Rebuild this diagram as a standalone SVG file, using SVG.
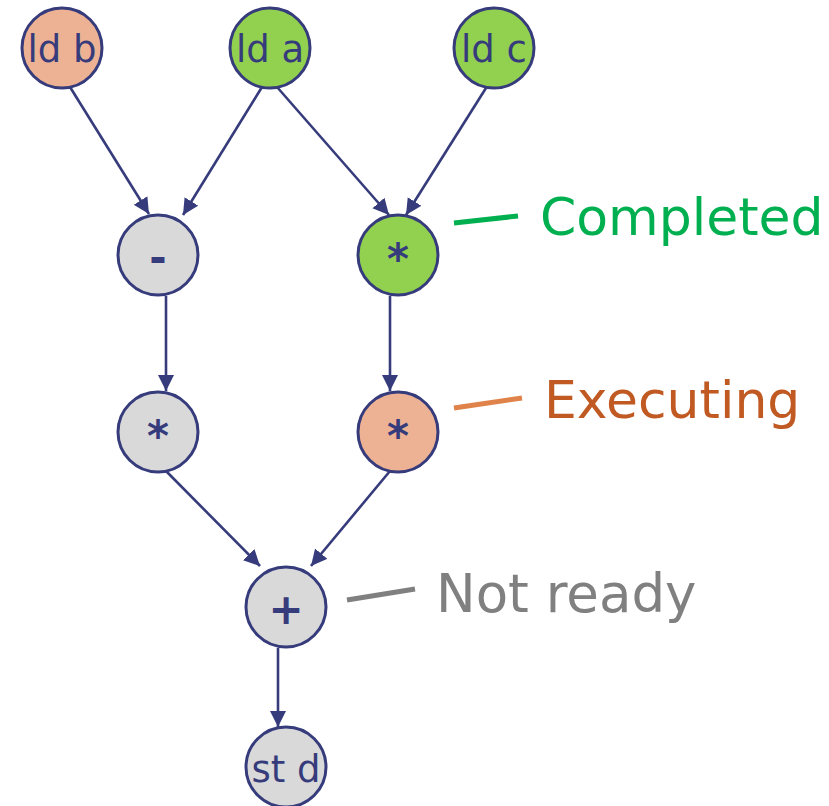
<svg xmlns="http://www.w3.org/2000/svg" width="829" height="806" viewBox="0 0 829 806">
<defs>
<style>
.n{stroke:#363B7B;stroke-width:3}
.g{fill:#D9D9D9}.gr{fill:#92D050}.o{fill:#EDB293}
.t{font-family:"DejaVu Sans",Verdana,sans-serif;fill:#363B7B;text-anchor:middle}
.tl{font-size:37px}
.op{font-size:42px;font-weight:bold}
.e{stroke:#363B7B;stroke-width:2.6;fill:none;marker-end:url(#ah)}
.lbl{font-family:"DejaVu Sans",Verdana,sans-serif;font-size:52px}
</style>
<marker id="ah" markerUnits="userSpaceOnUse" markerWidth="17" markerHeight="17" refX="16" refY="8" orient="auto">
<path d="M0,0 L16,8 L0,16 z" fill="#363B7B"/>
</marker>
</defs>
<rect width="829" height="806" fill="#FFFFFF"/>
<g id="connectors">
<line class="e" x1="70" y1="87" x2="149" y2="214"/>
<line class="e" x1="262" y1="87" x2="183" y2="215"/>
<line class="e" x1="277" y1="87" x2="389" y2="215"/>
<line class="e" x1="486" y1="88" x2="406" y2="215"/>
<line class="e" x1="166" y1="296" x2="166" y2="391"/>
<line class="e" x1="390" y1="296" x2="390" y2="391"/>
<line class="e" x1="166" y1="471" x2="260" y2="566"/>
<line class="e" x1="390" y1="471" x2="311" y2="566"/>
<line class="e" x1="278" y1="648" x2="278" y2="727"/>
</g>
<g id="ldb"><circle class="n o" cx="62" cy="48" r="40"/><text class="t tl" x="62" y="62">ld b</text></g>
<g id="lda"><circle class="n gr" cx="270" cy="48" r="40"/><text class="t tl" x="270" y="62">ld a</text></g>
<g id="ldc"><circle class="n gr" cx="494" cy="48" r="40"/><text class="t tl" x="494" y="62">ld c</text></g>
<g id="sub"><circle class="n g" cx="158" cy="255" r="40"/><text class="t op" x="158" y="272">-</text></g>
<g id="mul1"><circle class="n gr" cx="398" cy="255" r="40"/><text class="t op" x="398" y="274">*</text></g>
<g id="mul2"><circle class="n g" cx="158" cy="432" r="40"/><text class="t op" x="158" y="451">*</text></g>
<g id="mul3"><circle class="n o" cx="398" cy="432" r="40"/><text class="t op" x="398" y="451">*</text></g>
<g id="add"><circle class="n g" cx="286" cy="607" r="40"/><text class="t op" x="286" y="624">+</text></g>
<g id="std"><circle class="n g" cx="286" cy="767" r="40"/><text class="t tl" x="286" y="782">st d</text></g>
<g id="legend-completed">
<line x1="454" y1="223" x2="518" y2="216" stroke="#00B050" stroke-width="5"/>
<text class="lbl" x="540" y="235" fill="#00B050">Completed</text>
</g>
<g id="legend-executing">
<line x1="454" y1="408" x2="522" y2="398" stroke="#E0834A" stroke-width="5"/>
<text class="lbl" x="544" y="418" fill="#C05A22">Executing</text>
</g>
<g id="legend-notready">
<line x1="347" y1="600" x2="415" y2="589" stroke="#808080" stroke-width="5"/>
<text class="lbl" x="436" y="612" fill="#808080" style="font-size:53px">Not ready</text>
</g>
</svg>
